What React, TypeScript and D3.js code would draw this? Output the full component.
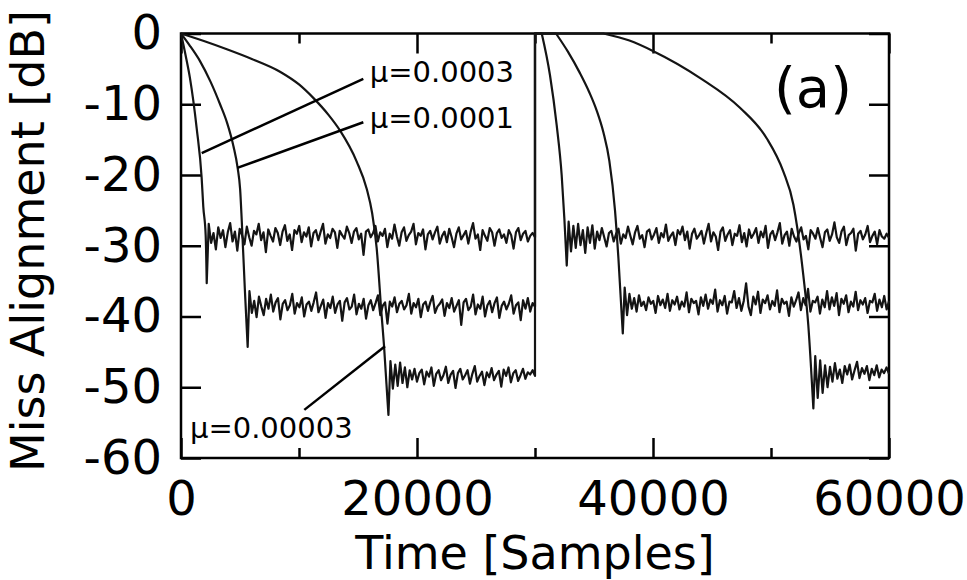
import { useEffect, useRef } from 'react';
import * as d3 from 'd3';

type Pt = [number, number];

const xMajor = [0, 20000, 40000, 60000];
const xMinor = [10000, 30000, 50000];
const yTicks = [0, -10, -20, -30, -40, -50, -60];

// mu = 0.0003
const fallA1: Pt[] = [[0, 0], [380, -3.0], [760, -6.3], [1330, -13.4], [1750, -20.4], [1890, -24.5], [2090, -28.5], [2180, -35.3]];
const steadyA1Range: Pt = [2350, 30000];
const steadyA1 = [
  -26.9, -29.6, -28.2, -30.5, -27.4, -28.9, -27.8, -30.2, -28.1, -26.8,
  -29.4, -28.0, -30.7, -27.6, -28.5, -29.8, -27.3, -28.8, -30.0, -27.9,
  -28.4, -26.9, -29.2, -28.1, -30.9, -27.7, -28.6, -29.4, -27.5, -28.2,
  -29.9, -28.0, -27.1, -29.3, -28.4, -30.6, -27.8, -28.3, -27.2, -29.5,
  -28.1, -28.7, -27.4, -30.1, -28.2, -27.8, -29.2, -28.0, -26.9, -29.7,
  -28.4, -28.9, -27.6, -28.1, -30.3, -27.9, -28.5, -29.0, -27.3, -28.2,
  -29.6, -28.0, -27.5, -29.1, -28.3, -31.3, -28.0, -27.7, -28.8, -28.2,
  -27.2, -29.4, -28.1, -28.6, -27.6, -30.2, -28.3, -29.0, -27.0, -28.7,
  -30.0, -28.1, -27.4, -29.3, -28.5, -28.0, -26.9, -29.8, -28.2, -28.6,
  -27.7, -30.5, -28.4, -27.9, -29.1, -28.1, -27.3, -29.7, -28.6, -28.0,
  -29.5, -27.6, -28.8, -30.2, -28.3, -27.4, -29.1, -28.5, -27.9, -29.7,
  -28.0, -26.8, -29.0, -28.4, -30.6, -27.8, -28.6, -29.3, -27.5, -28.1,
  -30.0, -28.2, -27.7, -28.9, -28.4, -29.6, -27.8, -28.5, -30.4, -28.1,
  -27.5, -29.2, -28.3, -27.9, -29.4, -28.6, -28.2, -28.8,
];
const fallA2: Pt[] = [[30000, 0], [30570, 0], [31270, -5.9], [31840, -13.0], [32260, -20.0], [32490, -26.2], [32690, -32.8]];
const steadyA2Range: Pt = [32850, 60000];
const steadyA2 = [
  -26.6, -30.8, -27.2, -30.3, -26.9, -29.9, -27.8, -31.0, -27.4, -29.6,
  -27.1, -30.4, -28.0, -29.2, -27.5, -28.8, -30.1, -28.2, -27.9, -29.4,
  -28.3, -27.6, -29.7, -28.4, -28.9, -27.3, -28.6, -29.8, -28.1, -27.2,
  -29.0, -28.5, -30.2, -28.0, -27.7, -29.1, -28.4, -27.5, -29.6, -28.2,
  -28.8, -27.0, -29.3, -28.6, -28.1, -29.9, -27.8, -28.4, -27.3, -29.2,
  -28.0, -30.4, -28.3, -27.6, -29.0, -28.5, -27.9, -29.7, -28.2, -26.9,
  -29.4, -28.1, -28.7, -30.6, -28.0, -27.4, -29.3, -28.4, -27.8, -29.9,
  -28.3, -28.6, -27.1, -29.5, -28.2, -30.1, -27.7, -28.9, -28.3, -27.5,
  -29.6, -28.0, -28.8, -27.2, -30.3, -28.4, -27.9, -29.2, -28.1, -26.8,
  -29.7, -28.5, -28.0, -30.0, -27.6, -28.7, -29.4, -28.2, -27.4, -29.1,
  -28.6, -30.5, -27.8, -28.3, -29.0, -27.5, -28.9, -30.2, -28.1, -27.7,
  -29.3, -28.4, -26.7, -28.8, -29.6, -28.0, -27.3, -29.9, -28.5, -28.2,
  -27.6, -30.7, -28.3, -27.9, -29.1, -28.4, -27.2, -29.5, -28.6, -28.0,
  -29.8, -27.8, -28.7, -29.0, -28.3, -28.9,
];

// mu = 0.0001
const fallB1: Pt[] = [[0, 0], [700, -1.6], [1610, -3.9], [2500, -6.8], [3310, -10.0], [3900, -12.6], [4440, -15.9], [4800, -19.0], [5010, -22.0], [5150, -26.5], [5420, -36.5], [5650, -44.3]];
const steadyB1Range: Pt = [5800, 30000];
const steadyB1 = [
  -36.4, -39.5, -37.8, -40.1, -37.2, -38.6, -39.8, -37.5, -38.9, -36.9,
  -39.3, -38.0, -37.4, -40.4, -38.2, -37.7, -39.1, -38.4, -36.8, -39.6,
  -38.1, -38.7, -37.3, -40.0, -38.3, -37.9, -39.2, -38.0, -36.6, -39.4,
  -38.5, -37.6, -40.2, -38.1, -38.8, -37.2, -39.5, -38.3, -37.8, -40.6,
  -38.0, -37.4, -39.0, -38.6, -36.9, -39.7, -38.2, -38.9, -37.5, -40.3,
  -38.4, -37.7, -39.1, -38.1, -37.0, -39.8, -38.5, -38.0, -41.0, -37.9,
  -38.6, -37.3, -39.4, -38.2, -37.8, -39.0, -38.4, -36.8, -39.6, -38.1,
  -38.7, -37.5, -40.1, -38.3, -37.9, -39.2, -38.0, -37.1, -39.5, -38.6,
  -38.2, -37.6, -39.9, -38.1, -38.8, -37.4, -39.3, -38.5, -37.7, -41.2,
  -38.0, -37.5, -39.1, -38.6, -36.9, -39.7, -38.3, -38.9, -37.2, -40.0,
  -38.4, -37.8, -39.4, -38.1, -37.3, -40.2, -38.5, -37.9, -39.0, -38.2,
  -37.0, -39.6, -38.4, -38.0, -40.5, -37.7, -38.9, -37.4, -39.3, -38.1,
  -38.6,
];
const fallB2: Pt[] = [[30000, 0], [31780, 0], [32800, -2.6], [33810, -5.6], [34600, -8.3], [35230, -10.9], [35800, -14.0], [36300, -18.0], [36780, -25.0], [37070, -31.8], [37440, -42.4]];
const steadyB2Range: Pt = [37600, 60000];
const steadyB2 = [
  -35.9, -39.8, -36.8, -38.9, -37.4, -39.3, -37.0, -38.5, -37.9, -39.1,
  -37.3, -38.2, -37.8, -39.5, -37.1, -38.4, -37.6, -38.8, -36.8, -39.2,
  -37.7, -38.3, -37.2, -39.0, -37.9, -38.6, -36.6, -39.4, -37.5, -38.1,
  -37.8, -39.7, -37.3, -38.5, -36.9, -38.9, -37.6, -38.2, -36.2, -39.3,
  -37.7, -38.4, -37.1, -39.6, -37.9, -38.0, -36.4, -38.8, -37.4, -39.2,
  -37.8, -35.3, -38.6, -39.8, -37.2, -38.3, -36.5, -39.5, -37.6, -38.1,
  -37.0, -39.0, -37.8, -38.5, -36.3, -39.4, -37.5, -38.2, -37.9, -39.9,
  -37.3, -38.6, -37.7, -36.6, -39.1, -37.4, -38.4, -36.1, -39.3, -37.8,
  -38.0, -37.2, -39.6, -37.6, -38.7, -36.4, -39.0, -37.3, -38.5, -36.7,
  -39.8, -37.5, -38.2, -37.0, -39.4, -37.9, -38.6, -36.5, -39.1, -37.7,
  -38.3, -37.4, -39.5, -37.8, -38.0, -36.8, -39.2, -37.6, -38.7, -37.1,
  -39.0, -37.8,
];

// mu = 0.00003
const fallC1: Pt[] = [[0, 0], [2000, -1.1], [4000, -2.3], [6000, -3.6], [8390, -5.4], [10000, -7.2], [11210, -9.1], [12500, -11.5], [13470, -13.7], [14890, -18.1], [15730, -21.9], [16200, -25.4], [16580, -30.3], [17000, -39.8], [17200, -44.0], [17580, -53.9]];
const steadyC1Range: Pt = [17750, 30000];
const steadyC1 = [
  -46.3, -50.2, -46.8, -49.8, -46.5, -49.4, -47.2, -50.0, -47.6, -48.9,
  -47.4, -49.2, -48.0, -47.5, -49.6, -47.8, -48.5, -47.2, -49.8, -48.1,
  -47.6, -49.0, -48.3, -47.1, -49.4, -48.2, -47.7, -50.1, -48.0, -47.4,
  -48.9, -48.3, -47.6, -49.5, -48.1, -47.0, -49.2, -48.4, -47.8, -49.7,
  -47.9, -48.6, -47.3, -49.0, -48.2, -47.7, -49.9, -47.5, -48.4, -47.2,
  -49.3, -48.0, -47.6, -49.1, -48.3, -47.4, -48.8, -47.9, -48.2, -47.6,
  -48.4,
];
const fallC2: Pt[] = [[30000, 0], [35800, 0], [38000, -1.0], [40030, -2.5], [44000, -6.3], [47370, -10.5], [49630, -14.8], [51040, -19.5], [51900, -24.2], [52740, -34.2], [53160, -41.2], [53590, -53.0]];
const steadyC2Range: Pt = [53750, 60000];
const steadyC2 = [
  -45.6, -51.5, -46.2, -50.8, -46.9, -50.0, -47.1, -49.2, -46.6, -48.8,
  -47.5, -49.4, -47.0, -48.2, -46.8, -48.9, -47.6, -46.4, -48.7, -47.3,
  -48.1, -47.0, -49.0, -47.4, -48.3, -46.9, -48.6, -47.5, -48.0, -47.2,
  -48.1,
];

// callouts: label position, leader line [from, to], in data units
const callouts = [
  { label: 'μ=0.0003', at: [16000, -6.9], from: [1754, -16.9], to: [15450, -6.4] },
  { label: 'μ=0.0001', at: [16000, -13.3], from: [4771, -19.0], to: [15450, -12.55] },
  { label: 'μ=0.00003', at: [760, -57.2], from: [10449, -53.2], to: [17288, -44.2] },
];

function steady(range: Pt, vals: number[]): Pt[] {
  const s = d3.scaleLinear().domain([0, vals.length - 1]).range(range);
  return vals.map((v, i) => [s(i), v] as Pt);
}

const series = [
  { fall1: fallA1, steady1: steady(steadyA1Range, steadyA1), fall2: fallA2, steady2: steady(steadyA2Range, steadyA2) },
  { fall1: fallB1, steady1: steady(steadyB1Range, steadyB1), fall2: fallB2, steady2: steady(steadyB2Range, steadyB2) },
  { fall1: fallC1, steady1: steady(steadyC1Range, steadyC1), fall2: fallC2, steady2: steady(steadyC2Range, steadyC2) },
];

const FONT = 'DejaVu Sans, Verdana, sans-serif';

export default function App() {
  const svgRef = useRef<SVGSVGElement>(null);

  useEffect(() => {
    const svg = d3.select(svgRef.current);
    svg.selectAll('*').remove();

    const left = 181, right = 889, top = 33.5, bottom = 458;
    const x = d3.scaleLinear().domain([0, 60000]).range([left, right]);
    const y = d3.scaleLinear().domain([-60, 0]).range([bottom, top]);
    const plain = (d: any) => String(d);

    const styleAxis = (g: any) => {
      g.select('.domain').remove();
      g.selectAll('line').attr('stroke', '#000').attr('stroke-width', 2.5);
      g.selectAll('text').attr('fill', '#000');
      g.attr('font-family', FONT).attr('font-size', 48);
    };

    // bottom
    svg.append('g').attr('transform', `translate(0,${bottom})`)
      .call(d3.axisBottom(x).tickValues(xMajor).tickSize(-20).tickPadding(23).tickFormat(plain))
      .call(styleAxis);
    svg.append('g').attr('transform', `translate(0,${bottom})`)
      .call(d3.axisBottom(x).tickValues(xMinor).tickSize(-10).tickFormat(() => ''))
      .call(styleAxis);
    // top
    svg.append('g').attr('transform', `translate(0,${top})`)
      .call(d3.axisTop(x).tickValues(xMajor).tickSize(-20).tickFormat(() => ''))
      .call(styleAxis);
    svg.append('g').attr('transform', `translate(0,${top})`)
      .call(d3.axisTop(x).tickValues(xMinor).tickSize(-10).tickFormat(() => ''))
      .call(styleAxis);
    // left
    svg.append('g').attr('transform', `translate(${left},0)`)
      .call(d3.axisLeft(y).tickValues(yTicks).tickSize(-20).tickPadding(19).tickFormat(plain))
      .call(styleAxis);
    // right
    svg.append('g').attr('transform', `translate(${right},0)`)
      .call(d3.axisRight(y).tickValues(yTicks).tickSize(-20).tickFormat(() => ''))
      .call(styleAxis);

    // frame
    svg.append('rect')
      .attr('x', left).attr('y', top)
      .attr('width', right - left).attr('height', bottom - top)
      .attr('fill', 'none').attr('stroke', '#000').attr('stroke-width', 2.5);

    // curves: smooth decay, jagged steady state, vertical reset at 30000
    const smooth = d3.line<Pt>().x(d => x(d[0])).y(d => y(d[1])).curve(d3.curveMonotoneX);
    const jagged = d3.line<Pt>().x(d => x(d[0])).y(d => y(d[1]));
    const cont = (s: string | null) => (s || '').replace(/^M/, 'L');
    series.forEach(s => {
      const [reset, ...fall2] = s.fall2;
      const d = (smooth(s.fall1) || '')
        + cont(jagged(s.steady1))
        + `L${x(reset[0])},${y(reset[1])}`
        + cont(smooth(fall2))
        + cont(jagged(s.steady2));
      svg.append('path')
        .attr('d', d)
        .attr('fill', 'none')
        .attr('stroke', '#141414')
        .attr('stroke-width', 2.2)
        .attr('stroke-linejoin', 'round');
    });

    // callouts
    callouts.forEach(c => {
      svg.append('line')
        .attr('x1', x(c.from[0])).attr('y1', y(c.from[1]))
        .attr('x2', x(c.to[0])).attr('y2', y(c.to[1]))
        .attr('stroke', '#000').attr('stroke-width', 2.5);
      svg.append('text')
        .attr('x', x(c.at[0])).attr('y', y(c.at[1]))
        .attr('font-family', FONT).attr('font-size', 29)
        .attr('fill', '#000')
        .text(c.label);
    });

    svg.append('text')
      .attr('x', x(53560)).attr('y', y(-10.4))
      .attr('text-anchor', 'middle')
      .attr('font-family', FONT).attr('font-size', 56)
      .text('(a)');

    // axis titles
    svg.append('text')
      .attr('transform', 'translate(44,241) rotate(-90)')
      .attr('text-anchor', 'middle')
      .attr('font-family', FONT).attr('font-size', 46)
      .text('Miss Alignment [dB]');
    svg.append('text')
      .attr('x', (left + right) / 2).attr('y', 569)
      .attr('text-anchor', 'middle')
      .attr('font-family', FONT).attr('font-size', 46)
      .text('Time [Samples]');
  }, []);

  return (
    <svg
      ref={svgRef}
      width={967}
      height={580}
      style={{ position: 'absolute', left: 0, top: 0, background: '#fff', display: 'block' }}
    />
  );
}
